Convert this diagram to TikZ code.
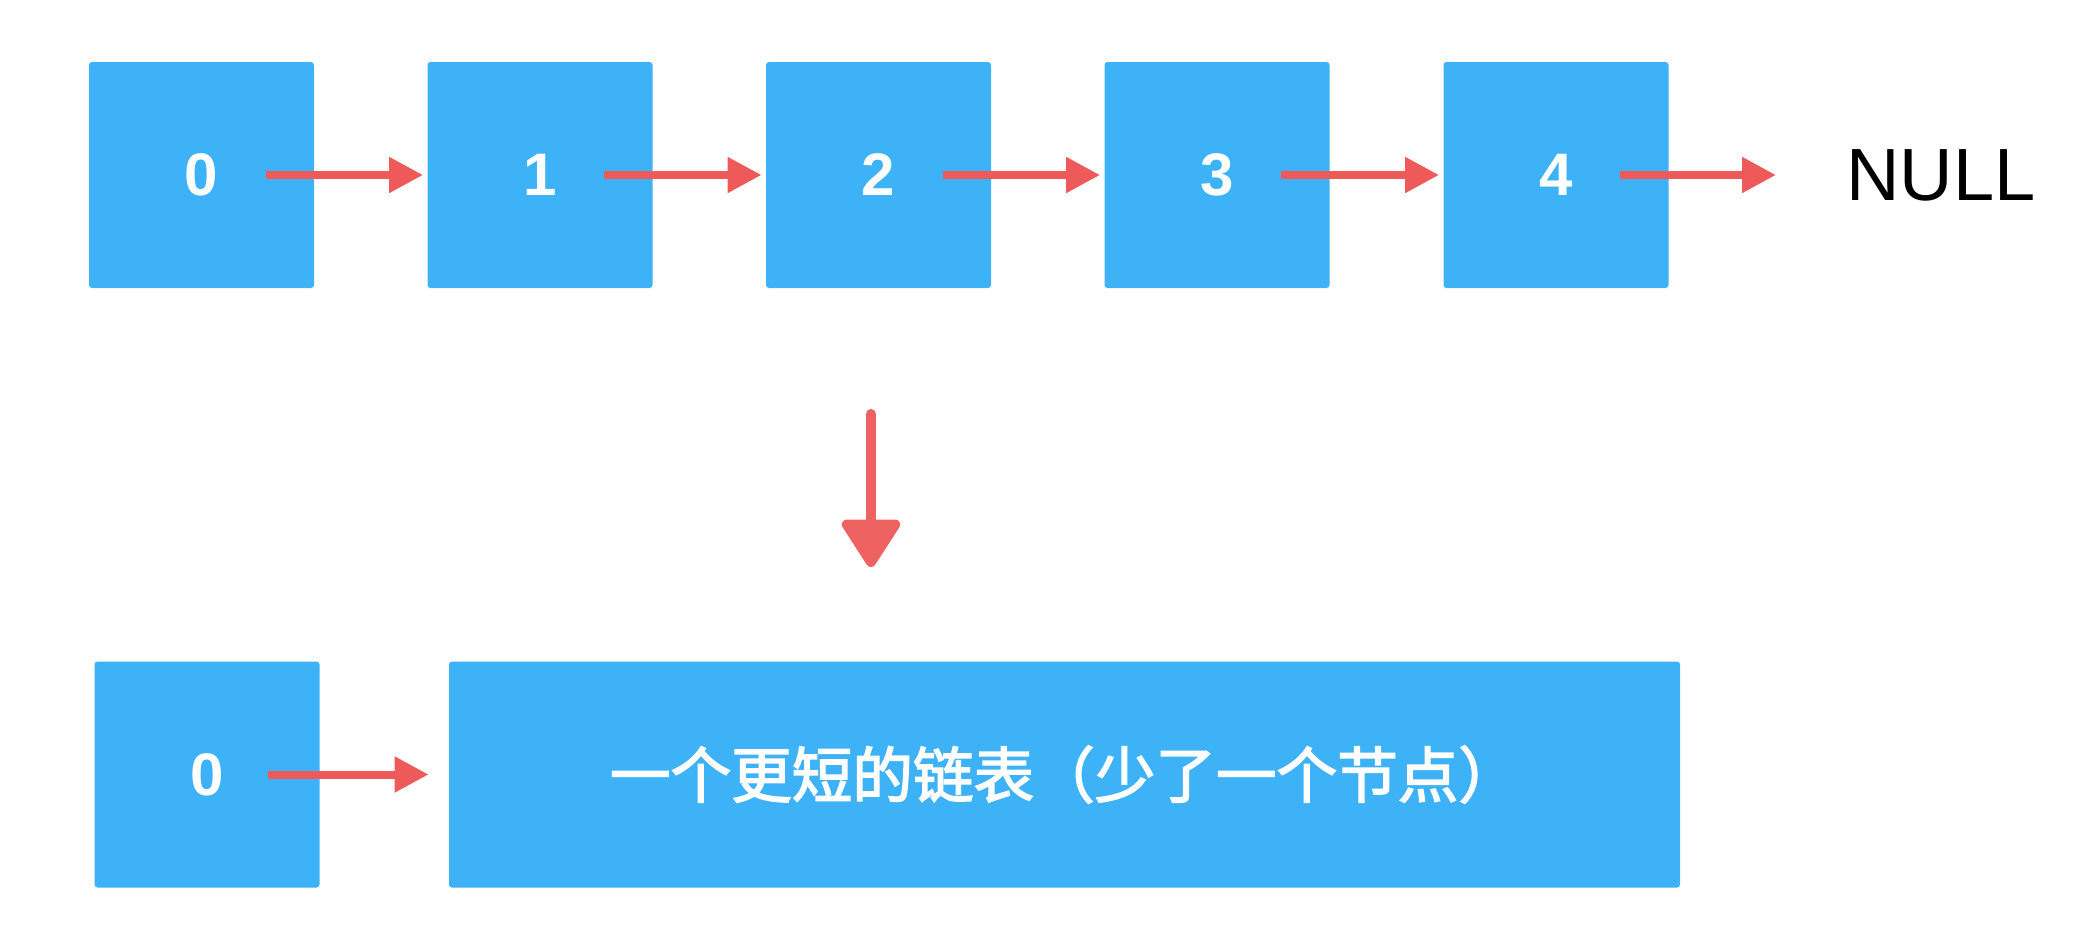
\documentclass[tikz,border=0pt]{standalone}
\usepackage{fontspec}
\setmainfont{Liberation Sans}
\newfontfamily\cjk{Noto Sans CJK SC}[FakeBold=2.5]
\usetikzlibrary{arrows.meta}
\definecolor{boxblue}{RGB}{61,178,246}
\definecolor{arrred}{RGB}{238,90,90}
\tikzset{
  blk/.style={fill=boxblue, draw=none, rounded corners=1.5pt, minimum width=112.5pt, minimum height=113pt, inner sep=0pt, text=white, font=\fontsize{30}{30}\selectfont\bfseries},
  ptr/.style={draw=arrred, line width=4pt, -{Triangle[length=17pt,width=17pt]}},
}
\begin{document}
\begin{tikzpicture}[x=0.5pt,y=-0.5pt]
\useasboundingbox (0,0) rectangle (2078,932);
% top row
\node[blk] (t0) at (201.5,175) {0};
\node[blk] (t1) at (540,175) {1};
\node[blk] (t2) at (878.5,175) {2};
\node[blk] (t3) at (1217,175) {3};
\node[blk] (t4) at (1556,175) {4};
\node[anchor=west, inner sep=0pt, font=\fontsize{37}{37}\selectfont] (null) at (1846,175) {NULL};
\draw[ptr] ([xshift=32pt]t0.center) -- ([xshift=-2pt]t1.west);
\draw[ptr] ([xshift=32pt]t1.center) -- ([xshift=-2pt]t2.west);
\draw[ptr] ([xshift=32pt]t2.center) -- ([xshift=-2pt]t3.west);
\draw[ptr] ([xshift=32pt]t3.center) -- ([xshift=-2pt]t4.west);
\draw[ptr] ([xshift=32pt]t4.center) -- ([xshift=-35pt]null.west);
% transform arrow
\coordinate (ds) at (871,414);
\coordinate (de) at (871,567);
\draw[draw=arrred!95!white, line width=5pt, line cap=round, -{Triangle[length=26pt,width=32pt,round]}] (ds) -- (de);
% bottom row
\node[blk] (b0) at (207,774.5) {0};
\node[blk, minimum width=615.5pt, font=\cjk\fontsize{30.3}{30.3}\selectfont] (rest) at (1064.5,774.5) {一个更短的链表（少了一个节点）};
\draw[ptr] ([xshift=30.5pt]b0.center) -- ([xshift=-10pt]rest.west);
\end{tikzpicture}
\end{document}
